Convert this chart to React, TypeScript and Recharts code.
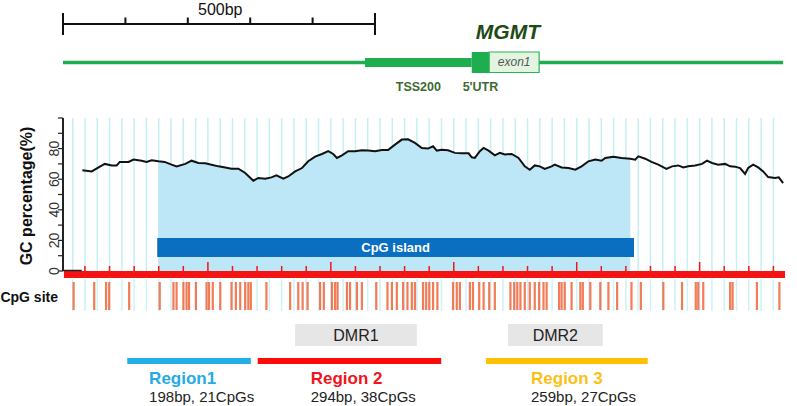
import React from "react";
import {
  ComposedChart,
  Line,
  Area,
  Scatter,
  XAxis,
  YAxis,
  CartesianGrid,
  ReferenceArea,
  ReferenceLine,
  ReferenceDot,
} from "recharts";

const FONT = "'Liberation Sans', Arial, sans-serif";

// GC content along the locus: [position (bp), GC %]
const gcTrace: [number, number][] = [
  [31, 65.8], [46, 65.1], [57, 67.7], [67, 70], [78, 69], [86, 69], [91, 71.3],
  [105, 71.3], [113, 72.8], [126, 72.1], [134, 71.3], [142, 72.3], [153, 71.7],
  [163, 71.3], [174, 69.5], [182, 68.4], [196, 70], [206, 72.1], [217, 70.6],
  [228, 70.4], [238, 69.5], [249, 68.4], [260, 67.7], [270, 66.9], [281, 66.9],
  [292, 64.1], [305, 59], [313, 60.8], [324, 60.3], [334, 61.2], [342, 62.5],
  [353, 60.3], [361, 61.8], [372, 65.1], [383, 67.3], [393, 71.7], [404, 74.8],
  [415, 76.5], [425, 78.3], [433, 76.5], [439, 73.9], [447, 75.6], [457, 78.3],
  [468, 78.3], [479, 78.9], [489, 78.7], [500, 78.3], [511, 79.1], [521, 79.1],
  [532, 82.6], [543, 85.9], [553, 86.1], [564, 83.7], [575, 80.4], [585, 80],
  [593, 81.5], [599, 78.7], [607, 79.3], [617, 78.9], [628, 77.2], [639, 76.9],
  [650, 76.9], [655, 74.3], [660, 73.9], [668, 78.3], [674, 80.4], [682, 78.7],
  [692, 75.6], [700, 77.2], [708, 76.1], [719, 76.5], [730, 73.9], [740, 68.4],
  [748, 66.2], [756, 69], [764, 68.4], [772, 66.7], [783, 68.4], [788, 69.5],
  [799, 67.7], [810, 67.3], [821, 66.2], [831, 68.4], [842, 71.7], [853, 72.8],
  [863, 72.1], [869, 73.9], [882, 74.6], [895, 73.9], [909, 73.4], [917, 72.8],
  [922, 74.9], [933, 73.4], [943, 71.3], [954, 69.5], [967, 66.7], [976, 68.4],
  [986, 69], [994, 67.7], [1002, 68.4], [1013, 69], [1024, 70], [1032, 72.1],
  [1040, 70.6], [1050, 69.5], [1061, 70], [1069, 68.4], [1077, 68.2], [1085, 67.3],
  [1093, 63.4], [1098, 67.3], [1106, 69.5], [1114, 67.7], [1122, 65.1], [1130, 61.4],
  [1141, 60.8], [1147, 61.2], [1154, 57.5],
];

// CpG dinucleotide positions (bp)
const cpgSites = [
  17, 50, 69, 74, 106, 155, 177, 182, 193, 198, 202, 213, 230, 234, 240, 252, 270,
  277, 284, 292, 297, 301, 326, 364, 377, 384, 392, 412, 418, 431, 436, 440, 455,
  460, 471, 479, 502, 520, 527, 535, 545, 552, 559, 564, 577, 582, 587, 593, 600,
  625, 631, 636, 652, 657, 667, 674, 683, 692, 717, 723, 728, 733, 740, 748, 756,
  763, 770, 775, 795, 799, 804, 815, 829, 833, 845, 861, 874, 888, 911, 926, 962,
  992, 1014, 1018, 1026, 1069, 1073, 1112, 1148,
];

const cpgIsland = { start: 151, end: 915 };
const geneSpan = [0, 1154];
const geneParts = [
  { name: "TSS200", start: 484, end: 655 },
  { name: "5'UTR", start: 655, end: 683 },
  { name: "exon1", start: 683, end: 763 },
];
const scaleBarTicks = [0, 100, 200, 300, 400, 500];
const dmrs = [
  { name: "DMR1", start: 372, end: 567 },
  { name: "DMR2", start: 713, end: 865 },
];
const regions = [
  { name: "Region1", start: 103, end: 301, info: "198bp, 21CpGs" },
  { name: "Region 2", start: 312, end: 606, info: "294bp, 38CpGs" },
  { name: "Region 3", start: 678, end: 937, info: "259bp, 27CpGs" },
];
const regionColors = ["#22aee6", "#ff0a0a", "#ffc000"];
const regionTextColors = ["#26aae2", "#f0141c", "#fbbf16"];
const regionLabelAt = [138, 397, 750];
const gcTicks = [0, 10, 20, 30, 40, 50, 60, 70, 80, 90, 100];

const X_DOMAIN: [number, number] = [0, 1157];
const GREEN = "#1eae50";

// background grid of the GC plot and the ruler ticks on the red bar
const gridLines: number[] = [];
for (let p = 15.5; p <= 1157; p += 19.7) gridLines.push(p);
const rulerTicks = gridLines.filter((_, i) => i % 2 === 1);

const gcRows = gcTrace.map(([pos, gc]) => ({
  pos,
  gc,
  island: pos >= cpgIsland.start && pos <= cpgIsland.end ? gc : null,
}));

const GcTick = (props: any) => {
  const { x, y, payload } = props;
  const v = payload.value;
  if (v % 20 !== 0 || v > 80) return <g />;
  return (
    <text
      x={x}
      y={y}
      transform={`rotate(-90 ${x} ${y})`}
      textAnchor="middle"
      dominantBaseline="central"
      fontSize={14}
      fill="#333"
      fontFamily={FONT}
    >
      {v}
    </text>
  );
};

const CpgMark = (p: any) => (
  <rect x={p.cx - 1.1} y={p.cy - 14} width={2.2} height={28} fill="#f0653a" fillOpacity={0.85} />
);

const centerText = (text: string, style: any) => (p: any) => {
  const vb = p.viewBox || {};
  return (
    <text
      x={vb.x + vb.width / 2}
      y={vb.y + vb.height / 2}
      textAnchor="middle"
      dominantBaseline="central"
      fontFamily={FONT}
      {...style}
    >
      {text}
    </text>
  );
};

const note = (key: string, x: number, y: number, text: string, style: any, rotate = 0) => (
  <ReferenceDot
    key={key}
    x={x}
    y={y}
    r={0}
    ifOverflow="visible"
    shape={(p: any) => (
      <text
        x={p.cx}
        y={p.cy}
        transform={rotate ? `rotate(${rotate} ${p.cx} ${p.cy})` : undefined}
        dominantBaseline="central"
        fontFamily={FONT}
        textAnchor="middle"
        {...style}
      >
        {text}
      </text>
    )}
  />
);

const seg = (key: string, x1: number, y1: number, x2: number, y2: number, stroke: string, w: number) => (
  <ReferenceLine
    key={key}
    segment={[{ x: x1, y: y1 }, { x: x2, y: y2 }]}
    stroke={stroke}
    strokeWidth={w}
    ifOverflow="visible"
  />
);

export default function App() {
  return (
    <div style={{ position: "absolute", left: 0, top: 0, width: 797, height: 406, background: "#fff" }}>
      {/* GC content plot */}
      <div style={{ position: "absolute", left: 0, top: 110 }}>
        <ComposedChart width={797} height={165} data={gcRows} margin={{ top: 8, right: 12, bottom: 4, left: 33 }}>
          <CartesianGrid
            horizontal={false}
            stroke="#c6eff5"
            strokeWidth={1.5}
            verticalCoordinatesGenerator={({ xAxis, offset }: any) =>
              gridLines.map((g) =>
                xAxis && typeof xAxis.scale === "function"
                  ? xAxis.scale(g)
                  : offset.left + (g / X_DOMAIN[1]) * offset.width
              )
            }
          />
          <XAxis type="number" dataKey="pos" domain={X_DOMAIN} hide />
          <YAxis
            type="number"
            domain={[0, 100]}
            ticks={gcTicks}
            interval={0}
            width={30}
            tickSize={5}
            tickMargin={4}
            axisLine={{ stroke: "#222", strokeWidth: 2 }}
            tickLine={{ stroke: "#222", strokeWidth: 1.2 }}
            tick={<GcTick />}
          />
          <Area
            type="linear"
            dataKey="island"
            stroke="none"
            fill="#bde7f7"
            fillOpacity={1}
            isAnimationActive={false}
          />
          <Line type="linear" dataKey="gc" stroke="#111" strokeWidth={2} dot={false} isAnimationActive={false} />
        </ComposedChart>
      </div>

      {/* annotation tracks: ruler, gene model, CpG sites, DMRs, regions */}
      <div style={{ position: "absolute", left: 0, top: 0 }}>
        <ComposedChart width={797} height={406} margin={{ top: 0, right: 12, bottom: 0, left: 63 }}>
          <XAxis type="number" dataKey="pos" domain={X_DOMAIN} hide />
          <YAxis type="number" dataKey="row" domain={[0, 406]} reversed hide />

          {/* scale bar */}
          {seg("sb", scaleBarTicks[0], 24, scaleBarTicks[scaleBarTicks.length - 1], 24, "#111", 2)}
          {scaleBarTicks.map((t, i) =>
            i === 0 || i === scaleBarTicks.length - 1
              ? seg(`sbt${t}`, t, 13, t, 35, "#111", 2)
              : seg(`sbt${t}`, t, 17.5, t, 24, "#111", 2)
          )}
          {note("sbl", 252, 9, "500bp", { fontSize: 16, fill: "#111" })}

          {/* gene model: intron line on both sides of the exon */}
          {seg("geneL", geneSpan[0], 62.5, geneParts[0].start, 62.5, GREEN, 3.5)}
          {seg("geneR", geneParts[2].end, 62.5, geneSpan[1], 62.5, GREEN, 3.5)}
          <ReferenceArea x1={geneParts[0].start} x2={geneParts[0].end} y1={58} y2={67} fill={GREEN} fillOpacity={1} stroke="none" />
          <ReferenceArea x1={geneParts[1].start} x2={geneParts[1].end} y1={52} y2={73} fill={GREEN} fillOpacity={1} stroke="none" />
          <ReferenceArea
            x1={geneParts[2].start}
            x2={geneParts[2].end}
            y1={52}
            y2={72.5}
            fill="#e3f5e1"
            fillOpacity={1}
            stroke="#2bb257"
            strokeWidth={1.2}
            label={centerText(geneParts[2].name, { fontSize: 12, fontStyle: "italic", fill: "#555" })}
          />
          {note("mgmt", 713, 31, "MGMT", { fontSize: 21, fontWeight: "bold", fontStyle: "italic", fill: "#1f4a16" })}
          {geneParts.slice(0, 2).map((g) =>
            note(`gl${g.name}`, (g.start + g.end) / 2, 87, g.name, { fontSize: 12.5, fontWeight: "bold", fill: "#3d6b31" })
          )}

          {/* CpG island bar */}
          <ReferenceArea
            x1={cpgIsland.start}
            x2={cpgIsland.end}
            y1={238}
            y2={257}
            fill="#0a6fc1"
            fillOpacity={1}
            stroke="none"
            label={centerText("CpG island", { fontSize: 13, fontWeight: "bold", fill: "#fff" })}
          />

          {/* red ruler bar */}
          {seg("corner", 0, 270.5, 30, 270.5, "#222", 1.5)}
          <ReferenceArea x1={1.5} x2={X_DOMAIN[1]} y1={271} y2={278} fill="#f51414" fillOpacity={1} stroke="none" />
          {rulerTicks.map((t, k) =>
            seg(`rt${k}`, t, k > 0 && k % 5 === 0 ? 262 : 266, t, 271, "#f51414", 1.5)
          )}

          {/* CpG site track */}
          {gridLines.map((g, i) => seg(`cg${i}`, g, 279, g, 311, "#cdf2f7", 1.5))}
          <Scatter
            data={cpgSites.map((pos) => ({ pos, row: 296 }))}
            shape={CpgMark}
            isAnimationActive={false}
          />

          {/* DMRs */}
          {dmrs.map((d) => (
            <ReferenceArea
              key={d.name}
              x1={d.start}
              x2={d.end}
              y1={324}
              y2={346}
              fill="#e6e6e6"
              fillOpacity={1}
              stroke="none"
              label={centerText(d.name, { fontSize: 16, fill: "#222" })}
            />
          ))}

          {/* analysed regions */}
          {regions.map((r, i) => (
            <ReferenceArea
              key={r.name}
              x1={r.start}
              x2={r.end}
              y1={358}
              y2={364}
              fill={regionColors[i]}
              fillOpacity={1}
              stroke="none"
            />
          ))}
          {regions.map((r, i) =>
            note(`rt${r.name}`, regionLabelAt[i], 378, r.name, {
              fontSize: 17,
              fontWeight: "bold",
              fill: regionTextColors[i],
              textAnchor: "start",
            })
          )}
          {regions.map((r, i) =>
            note(`ri${r.name}`, regionLabelAt[i], 396, r.info, { fontSize: 15, fill: "#222", textAnchor: "start" })
          )}

          {/* left-side labels */}
          {note("ylab", -57.7, 196, "GC percentage(%)", { fontSize: 16, fontWeight: "bold", fill: "#111" }, -90)}
          {note("cpglab", -8, 297, "CpG site", { fontSize: 14, fontWeight: "bold", fill: "#111", textAnchor: "end" })}
        </ComposedChart>
      </div>
    </div>
  );
}
